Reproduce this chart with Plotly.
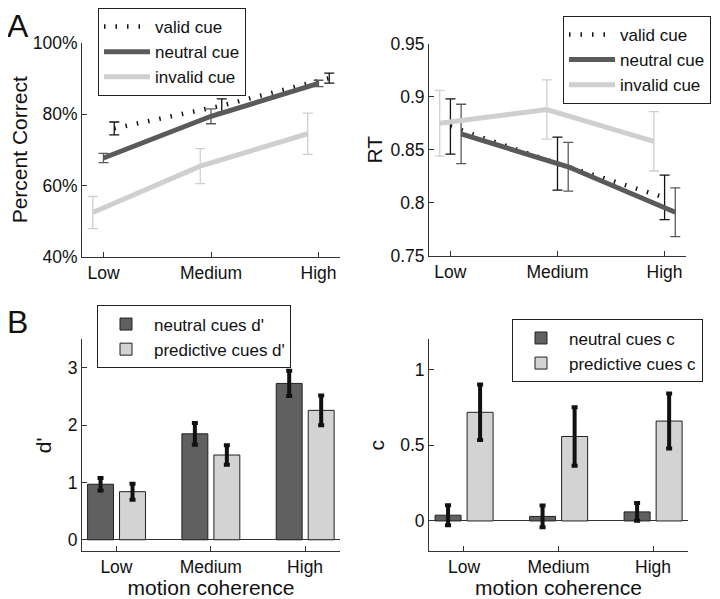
import plotly.graph_objects as go

# ---------------- data ----------------
categories = ["Low", "Medium", "High"]

# Panel A left: percent correct
pc_valid = [76.0, 82.4, 90.1]
pc_valid_err = [1.8, 1.9, 1.4]
pc_neutral = [67.7, 79.4, 88.6]
pc_neutral_err = [1.3, 2.1, 0.9]
pc_invalid = [52.4, 65.4, 74.5]
pc_invalid_err = [4.5, 4.9, 5.8]
pc_ticks = [40, 60, 80, 100]
pc_ticklabels = ["40%", "60%", "80%", "100%"]

# Panel A right: RT
rt_valid = [0.872, 0.837, 0.805]
rt_valid_err = [0.026, 0.025, 0.021]
rt_neutral = [0.865, 0.834, 0.791]
rt_neutral_err = [0.028, 0.023, 0.023]
rt_invalid = [0.875, 0.888, 0.858]
rt_invalid_err = [0.031, 0.028, 0.028]
rt_ticks = [0.75, 0.8, 0.85, 0.9, 0.95]
rt_ticklabels = ["0.75", "0.8", "0.85", "0.9", "0.95"]

# Panel B left: d'
dp_neutral = [0.97, 1.85, 2.73]
dp_neutral_err = [0.11, 0.19, 0.22]
dp_pred = [0.84, 1.48, 2.26]
dp_pred_err = [0.14, 0.17, 0.26]
dp_ticks = [0, 1, 2, 3]

# Panel B right: c
c_neutral = [0.038, 0.030, 0.060]
c_neutral_err = [0.066, 0.072, 0.058]
c_pred = [0.718, 0.558, 0.660]
c_pred_err = [0.183, 0.193, 0.182]
c_ticks = [0, 0.5, 1]
c_ticklabels = ["0", "0.5", "1"]

# ---------------- styles ----------------
DARK = "#5a5a5a"
LIGHT = "#cfcfcf"
BAR_DARK = "#606060"
BAR_LIGHT = "#d3d3d3"
AXC = "#333333"
FONT = "Liberation Sans, Arial, Helvetica, sans-serif"
DOT = dict(color="#111111", width=4.5, dash="1.5px,10px")

pos = [i + 1 for i in range(len(categories))]


def shifted(off):
    return [p + off for p in pos]


fig = go.Figure()

# ---- A left ----
fig.add_trace(go.Scatter(
    x=shifted(0.1), y=pc_valid, name="valid cue", mode="lines", line=DOT,
    error_y=dict(type="data", array=pc_valid_err, color="#111111", thickness=1.3, width=5),
    xaxis="x", yaxis="y", legend="legend"))
fig.add_trace(go.Scatter(
    x=shifted(0.0), y=pc_neutral, name="neutral cue", mode="lines",
    line=dict(color=DARK, width=5),
    error_y=dict(type="data", array=pc_neutral_err, color=DARK, thickness=1.3, width=5),
    xaxis="x", yaxis="y", legend="legend"))
fig.add_trace(go.Scatter(
    x=shifted(-0.1), y=pc_invalid, name="invalid cue", mode="lines",
    line=dict(color=LIGHT, width=5),
    error_y=dict(type="data", array=pc_invalid_err, color=LIGHT, thickness=1.3, width=5),
    xaxis="x", yaxis="y", legend="legend"))

# ---- A right ----
fig.add_trace(go.Scatter(
    x=shifted(0.0), y=rt_valid, name="valid cue", mode="lines", line=DOT,
    error_y=dict(type="data", array=rt_valid_err, color="#111111", thickness=1.3, width=5),
    xaxis="x2", yaxis="y2", legend="legend2"))
fig.add_trace(go.Scatter(
    x=shifted(0.1), y=rt_neutral, name="neutral cue", mode="lines",
    line=dict(color=DARK, width=5),
    error_y=dict(type="data", array=rt_neutral_err, color=DARK, thickness=1.3, width=5),
    xaxis="x2", yaxis="y2", legend="legend2"))
fig.add_trace(go.Scatter(
    x=shifted(-0.1), y=rt_invalid, name="invalid cue", mode="lines",
    line=dict(color=LIGHT, width=5),
    error_y=dict(type="data", array=rt_invalid_err, color=LIGHT, thickness=1.3, width=5),
    xaxis="x2", yaxis="y2", legend="legend2"))

# ---- B left ----
BW = 0.275
EB = dict(type="data", color="#111111", thickness=4, width=3)
fig.add_trace(go.Bar(
    x=pos, y=dp_neutral, name="neutral cues d'", width=BW, offset=-0.306,
    marker=dict(color=BAR_DARK, line=dict(color="#222222", width=1)),
    error_y=dict(EB, array=dp_neutral_err),
    xaxis="x3", yaxis="y3", legend="legend3"))
fig.add_trace(go.Bar(
    x=pos, y=dp_pred, name="predictive cues d'", width=BW, offset=0.033,
    marker=dict(color=BAR_LIGHT, line=dict(color="#222222", width=1)),
    error_y=dict(EB, array=dp_pred_err),
    xaxis="x3", yaxis="y3", legend="legend3"))

# ---- B right ----
fig.add_trace(go.Bar(
    x=pos, y=c_neutral, name="neutral cues c", width=BW, offset=-0.306,
    marker=dict(color=BAR_DARK, line=dict(color="#222222", width=1)),
    error_y=dict(EB, array=c_neutral_err),
    xaxis="x4", yaxis="y4", legend="legend4"))
fig.add_trace(go.Bar(
    x=pos, y=c_pred, name="predictive cues c", width=BW, offset=0.033,
    marker=dict(color=BAR_LIGHT, line=dict(color="#222222", width=1)),
    error_y=dict(EB, array=c_pred_err),
    xaxis="x4", yaxis="y4", legend="legend4"))

# The page body has an 8px margin, so the figure is drawn from (8, 8).
OFF = 8
W, H = 720 - OFF, 599 - OFF


def fx(px):
    return (px - OFF) / W


def fy(py):
    return 1 - (py - OFF) / H


def xdom(a, b):
    return [fx(a), fx(b)]


def ydom(top, bottom):
    return [fy(bottom), fy(top)]


axis_common = dict(showline=True, linecolor=AXC, linewidth=1, ticks="inside",
                   ticklen=5, tickcolor=AXC, showgrid=False, zeroline=False,
                   automargin=False, tickmode="array",
                   tickfont=dict(size=17.5, color="#111111", family=FONT))

xcommon = dict(axis_common, tickvals=pos, ticktext=categories)

fig.update_layout(
    template="none",
    width=W, height=H, autosize=False,
    margin=dict(l=0, r=0, t=0, b=0, pad=0),
    paper_bgcolor="white", plot_bgcolor="white",
    font=dict(family=FONT, color="#111111"),
    barmode="overlay",
    xaxis=dict(xcommon, domain=xdom(82, 340), range=[0.8, 3.2], anchor="y"),
    yaxis=dict(axis_common, domain=ydom(40, 255), range=[40, 100], anchor="x",
               tickvals=pc_ticks, ticktext=pc_ticklabels,
               title=dict(text="Percent Correct", font=dict(size=21), standoff=0)),
    xaxis2=dict(xcommon, domain=xdom(429, 686), range=[0.8, 3.2], anchor="y2"),
    yaxis2=dict(axis_common, domain=ydom(41, 254), range=[0.75, 0.95], anchor="x2",
                tickvals=rt_ticks, ticktext=rt_ticklabels,
                title=dict(text="RT", font=dict(size=21), standoff=2)),
    xaxis3=dict(xcommon, domain=xdom(82, 340), range=[0.635, 3.37], anchor="y3",
                title=dict(text="motion coherence", font=dict(size=21), standoff=0)),
    yaxis3=dict(axis_common, domain=ydom(338, 551), range=[-0.2, 3.5], anchor="x3",
                tickvals=dp_ticks, zeroline=True, zerolinecolor=AXC, zerolinewidth=1,
                title=dict(text="d'", font=dict(size=21), standoff=10)),
    xaxis4=dict(xcommon, domain=xdom(429, 688), range=[0.63, 3.37], anchor="y4",
                title=dict(text="motion coherence", font=dict(size=21), standoff=0)),
    yaxis4=dict(axis_common, domain=ydom(338, 551), range=[-0.2, 1.2], anchor="x4",
                tickvals=c_ticks, ticktext=c_ticklabels,
                zeroline=True, zerolinecolor=AXC, zerolinewidth=1,
                title=dict(text="c", font=dict(size=21), standoff=9)),
)

legend_common = dict(bgcolor="white", bordercolor="#222222", borderwidth=1,
                     font=dict(size=17, family=FONT, color="#111111"),
                     xanchor="left", yanchor="top", tracegroupgap=0, itemwidth=46)
fig.update_layout(
    legend=dict(legend_common, x=fx(98), y=fy(5)),
    legend2=dict(legend_common, x=fx(563), y=fy(13)),
    legend3=dict(legend_common, x=fx(97), y=fy(304)),
    legend4=dict(legend_common, x=fx(512), y=fy(318)),
)

fig.add_annotation(text="A", x=fx(5), y=fy(3), xref="paper", yref="paper",
                   xanchor="left", yanchor="top", showarrow=False,
                   font=dict(size=32, family=FONT, color="#111111"))
fig.add_annotation(text="B", x=fx(5), y=fy(300), xref="paper", yref="paper",
                   xanchor="left", yanchor="top", showarrow=False,
                   font=dict(size=32, family=FONT, color="#111111"))

fig.write_html("out.html")
